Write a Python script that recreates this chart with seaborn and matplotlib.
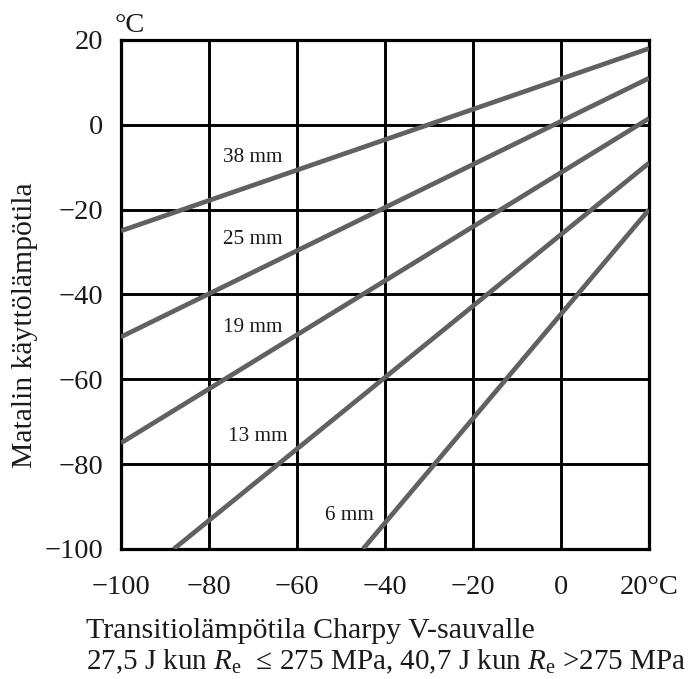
import matplotlib
matplotlib.use("Agg")
import matplotlib.pyplot as plt
import seaborn as sns
import pandas as pd

# Transition-temperature lines for each plate thickness (end points of each line)
thickness_labels = ["38 mm", "25 mm", "19 mm", "13 mm", "6 mm"]
x_start = [-100, -100, -100, -88, -45]
y_start = [-25, -50, -75, -100, -100]
x_end = [20, 20, 20, 20, 20]
y_end = [18, 11, 1.5, -9, -20]

x_ticks = [-100, -80, -60, -40, -20, 0, 20]
x_tick_labels = ["\u2212100", "\u221280", "\u221260", "\u221240", "\u221220", "0", "20°C"]
y_ticks = [-100, -80, -60, -40, -20, 0, 20]
y_tick_labels = ["\u2212100", "\u221280", "\u221260", "\u221240", "\u221220", "0", "20"]

y_label = "Matalin käyttölämpötila"
x_label_1 = "Transitiolämpötila Charpy V-sauvalle"
x_label_2 = r"27,5 J kun $R_\mathrm{e}$  ≤ 275 MPa, 40,7 J kun $R_\mathrm{e}$ >275 MPa"

sns.set_theme(style="white")
plt.rcParams["font.family"] = ["Liberation Serif", "DejaVu Serif"]
plt.rcParams["mathtext.fontset"] = "custom"
plt.rcParams["mathtext.rm"] = "Liberation Serif"
plt.rcParams["mathtext.it"] = "Liberation Serif:italic"
plt.rcParams["text.color"] = "#1a1a1a"

rows = []
for lab, xs, ys, xe, ye in zip(thickness_labels, x_start, y_start, x_end, y_end):
    rows.append({"thickness": lab, "x": xs, "y": ys})
    rows.append({"thickness": lab, "x": xe, "y": ye})
df = pd.DataFrame(rows)

fig = plt.figure(figsize=(6.94, 6.79), dpi=100)
ax = fig.add_axes([0.1744, 0.1915, 0.7608, 0.7496])

sns.lineplot(data=df, x="x", y="y", units="thickness", estimator=None,
             color="#616161", linewidth=3.4, ax=ax, legend=False,
             solid_capstyle="butt", zorder=3)

ax.set_xlim(-100, 20)
ax.set_ylim(-100, 20)
ax.set_xticks(x_ticks)
ax.set_xticklabels(x_tick_labels)
ax.set_yticks(y_ticks)
ax.set_yticklabels(y_tick_labels)
ax.tick_params(axis="both", length=0, labelsize=20.5, colors="#1a1a1a")
ax.tick_params(axis="x", pad=19)
ax.tick_params(axis="y", pad=13)
ax.set_xlabel("")
ax.set_ylabel("")

ax.grid(True, color="black", linewidth=2.1, zorder=1)
ax.set_axisbelow(True)
for sp in ax.spines.values():
    sp.set_visible(True)
    sp.set_color("black")
    sp.set_linewidth(2.3)

# Thickness labels placed beside their lines
label_pos = [(-70, -7.8), (-70, -27), (-70, -47.8), (-69, -73.6), (-48, -92)]
for lab, (lx, ly) in zip(thickness_labels, label_pos):
    ax.text(lx, ly, lab, fontsize=15.3, ha="center", va="center", zorder=4)

fig.text(130 / 694, 1 - 25 / 679, "°C", fontsize=20.5, ha="center", va="center")
fig.text(25 / 694, 1 - 325 / 679, y_label, fontsize=21.3, rotation=90,
         ha="center", va="center")
fig.text(86 / 694, 1 - 638 / 679, x_label_1, fontsize=21.5, ha="left", va="baseline")
fig.text(86 / 694, 1 - 669 / 679, x_label_2, fontsize=21.0, ha="left", va="baseline")

fig.savefig("out.png", dpi=100, facecolor="white")
